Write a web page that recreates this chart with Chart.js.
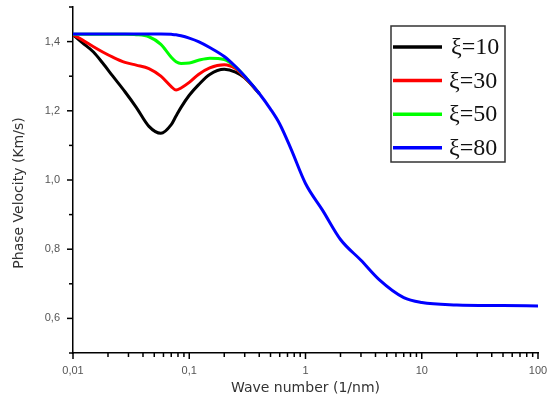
<!DOCTYPE html>
<html>
<head>
<meta charset="utf-8">
<script src="https://cdn.jsdelivr.net/npm/chart.js@4/dist/chart.umd.min.js"></script>
<style>
  html, body { margin: 0; padding: 0; background: #fff; }
  #wrap { width: 549px; height: 403px; }
</style>
</head>
<body>
<div id="wrap"><canvas id="phaseChart" width="549" height="403"></canvas></div>
<script>
// Data
const waveNumber = [0.01, 0.012, 0.015, 0.018, 0.022, 0.028, 0.035, 0.045, 0.057, 0.07, 0.077, 0.085, 0.1, 0.12, 0.15, 0.2, 0.25, 0.3, 0.4, 0.5, 0.6, 0.75, 1, 1.4, 2, 3, 4.3, 7, 10, 20, 50, 100];

const xi10 = [1.42, 1.397, 1.37, 1.338, 1.30, 1.255, 1.21, 1.155, 1.135, 1.16, 1.185, 1.21, 1.245, 1.275, 1.305, 1.32, 1.312, 1.295, 1.25, null, null, null, null, null, null, null, null, null, null, null, null, null];
const xi30 = [1.42, 1.405, 1.385, 1.37, 1.355, 1.34, 1.332, 1.322, 1.30, 1.27, 1.26, 1.266, 1.282, 1.305, 1.324, 1.333, 1.322, 1.297, 1.25, null, null, null, null, null, null, null, null, null, null, null, null, null];
const xi50 = [1.421, 1.421, 1.421, 1.421, 1.421, 1.421, 1.42, 1.414, 1.392, 1.355, 1.342, 1.337, 1.338, 1.346, 1.352, 1.348, 1.327, 1.30, 1.25, null, null, null, null, null, null, null, null, null, null, null, null, null];
const xi80 = [1.422, 1.422, 1.422, 1.422, 1.422, 1.422, 1.422, 1.422, 1.422, 1.421, 1.42, 1.417, 1.41, 1.40, 1.383, 1.357, 1.328, 1.30, 1.25, 1.205, 1.162, 1.09, 0.99, 0.913, 0.828, 0.768, 0.712, 0.66, 0.646, 0.639, 0.637, 0.636];

const seriesLabels = ["ξ=10", "ξ=30", "ξ=50", "ξ=80"];
const seriesColors = ["#000000", "#ff0000", "#00ff00", "#0000ff"];

// Tick values and labels
const xMajor = [0.01, 0.1, 1, 10, 100];
const xMajorLabels = ["0,01", "0,1", "1", "10", "100"];
const yMajor = [0.6, 0.8, 1.0, 1.2, 1.4];
const yMajorLabels = ["0,6", "0,8", "1,0", "1,2", "1,4"];

// minor ticks: 2..9 in each decade, 0.1 steps on y
const xTicks = [];
for (let d = 0; d < xMajor.length; d++) {
  for (let m = 1; m <= 9; m++) {
    if (d === xMajor.length - 1 && m > 1) break;
    xTicks.push(xMajor[d] * m);
  }
}
const yTicks = [];
for (let i = 5; i <= 15; i++) yTicks.push(i / 10);

function xLabel(v) {
  const i = xMajor.findIndex((m) => Math.abs(m - v) / m < 1e-6);
  return i >= 0 ? xMajorLabels[i] : "";
}
function yLabel(v) {
  const i = yMajor.findIndex((m) => Math.abs(m - v) < 1e-6);
  return i >= 0 ? yMajorLabels[i] : "";
}

function toPoints(values) {
  const pts = [];
  values.forEach((y, i) => {
    if (y !== null) pts.push({ x: waveNumber[i], y: y });
  });
  return pts;
}

// Draws tick marks (long for labelled, short for minor), the rotated y title and the boxed legend
const decorPlugin = {
  id: "decor",
  afterDraw(chart) {
    const ctx = chart.ctx;
    const area = chart.chartArea;
    const xs = chart.scales.x;
    const ys = chart.scales.y;

    ctx.save();
    ctx.strokeStyle = "#000";
    ctx.lineWidth = 1.5;
    yTicks.forEach((v) => {
      const py = ys.getPixelForValue(v);
      const len = yLabel(v) ? 6 : 4;
      ctx.beginPath();
      ctx.moveTo(area.left - len, py);
      ctx.lineTo(area.left, py);
      ctx.stroke();
    });
    xTicks.forEach((v) => {
      const px = xs.getPixelForValue(v);
      const len = xLabel(v) ? 6 : 4;
      ctx.beginPath();
      ctx.moveTo(px, area.bottom);
      ctx.lineTo(px, area.bottom + len);
      ctx.stroke();
    });

    // y axis title
    ctx.fillStyle = "#333";
    ctx.font = "14px 'DejaVu Sans'";
    ctx.textAlign = "center";
    ctx.textBaseline = "middle";
    ctx.translate(19, (area.top + area.bottom) / 2 + 13);
    ctx.rotate(-Math.PI / 2);
    ctx.fillText("Phase Velocity (Km/s)", 0, 0);
    ctx.restore();

    // legend box
    ctx.save();
    const bx = 391, by = 26, bw = 114, bh = 136;
    ctx.strokeStyle = "#333";
    ctx.lineWidth = 1.5;
    ctx.strokeRect(bx, by, bw, bh);
    ctx.font = "24px 'Liberation Serif'";
    ctx.textAlign = "left";
    ctx.textBaseline = "middle";
    chart.data.datasets.forEach((ds, i) => {
      const ly = 47 + i * 33.6;
      ctx.strokeStyle = ds.borderColor;
      ctx.lineWidth = 3.5;
      ctx.beginPath();
      ctx.moveTo(bx + 2, ly);
      ctx.lineTo(bx + 51, ly);
      ctx.stroke();
      ctx.fillStyle = "#111";
      ctx.fillText(ds.label, bx + (i === 0 ? 60 : 58), ly + 1);
    });
    ctx.restore();
  },
};

const datasets = [xi10, xi30, xi50, xi80].map((vals, i) => ({
  label: seriesLabels[i],
  data: toPoints(vals),
  borderColor: seriesColors[i],
  backgroundColor: seriesColors[i],
  borderWidth: 3,
  pointRadius: 0,
  fill: false,
  cubicInterpolationMode: "monotone",
  order: 4 - i,
}));

new Chart(document.getElementById("phaseChart").getContext("2d"), {
  type: "line",
  data: { datasets: datasets },
  options: {
    responsive: false,
    animation: false,
    layout: { padding: { top: 7, right: 11, left: 0, bottom: 0 } },
    plugins: {
      legend: { display: false },
      tooltip: { enabled: false },
    },
    scales: {
      x: {
        type: "logarithmic",
        min: 0.01,
        max: 100,
        afterBuildTicks: (scale) => {
          scale.ticks = xTicks.map((v) => ({ value: v }));
        },
        afterFit: (scale) => {
          scale.height = 50;
          scale.paddingLeft = 0;
          scale.paddingRight = 0;
        },
        ticks: {
          autoSkip: false,
          maxRotation: 0,
          padding: 11,
          color: "#555",
          font: { family: "'Liberation Sans'", size: 11 },
          callback: (v) => xLabel(v),
        },
        grid: { display: false, drawTicks: false },
        border: { display: true, color: "#000", width: 1.5 },
        title: {
          display: true,
          text: "Wave number (1/nm)",
          color: "#333",
          font: { family: "'DejaVu Sans'", size: 14 },
          padding: { top: 0, bottom: 6 },
        },
      },
      y: {
        type: "linear",
        min: 0.5,
        max: 1.5,
        afterBuildTicks: (scale) => {
          scale.ticks = yTicks.map((v) => ({ value: v }));
        },
        afterFit: (scale) => {
          scale.width = 73;
          scale.paddingTop = 0;
          scale.paddingBottom = 0;
        },
        ticks: {
          autoSkip: false,
          padding: 13,
          color: "#555",
          font: { family: "'Liberation Sans'", size: 11 },
          callback: (v) => yLabel(v),
        },
        grid: { display: false, drawTicks: false },
        border: { display: true, color: "#000", width: 1.5 },
      },
    },
  },
  plugins: [decorPlugin],
});
</script>
</body>
</html>
